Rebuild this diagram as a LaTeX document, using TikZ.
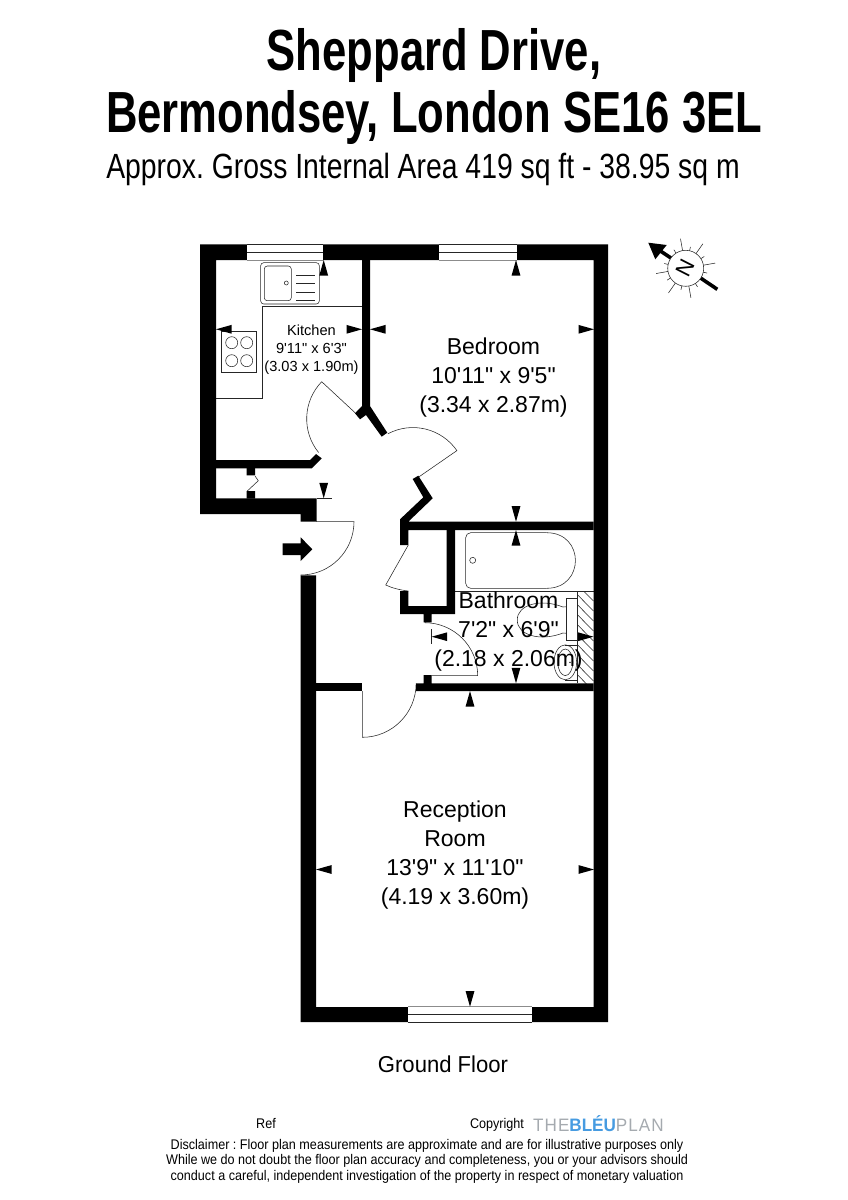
\documentclass[tikz,border=0pt]{standalone}
\usepackage{fontspec}
\usepackage{tikz}
\usetikzlibrary{calc}
\newfontfamily\plansans{Liberation Sans}
\newfontfamily\logoletters[LetterSpace=6]{Liberation Sans}
\definecolor{logoblue}{RGB}{70,155,225}
\definecolor{logogray}{RGB}{165,170,175}
\AtBeginDocument{\frenchspacing}

\begin{document}
\begin{tikzpicture}[x=1pt, y=-1pt]
    \tikzstyle{wall}=[fill=black, draw=none]
    \tikzstyle{fine}=[draw=black!85, line width=0.55pt]
    \tikzstyle{dimtip}=[fill=black, draw=none]
    \tikzstyle{roomtext}=[align=center, inner sep=0pt, font=\plansans\fontsize{23}{29}\selectfont]
    \tikzstyle{smalltext}=[align=center, inner sep=0pt, font=\plansans\fontsize{14.6}{18}\selectfont]
    \tikzstyle{foottext}=[inner sep=0pt, anchor=base, xscale=0.9, font=\plansans\fontsize{14}{16}\selectfont]
    \tikzstyle{titletext}=[anchor=base, inner sep=0pt, xscale=0.752, font=\plansans\bfseries\fontsize{58}{58}\selectfont]

    \useasboundingbox (0,0) rectangle (848,1200);

      % fittings
      \draw[fine] (262.3,306.3) -- (362,306.3) (262.3,306.3) -- (262.3,398.3) -- (216,398.3);
      \draw[fine] (221.3,331.3) rectangle (256.7,372.3);
      \foreach \cx/\cy in {231.7/342.7, 246.7/342.7, 231.7/360.7, 246.7/360.7}
        \draw[fine] (\cx,\cy) circle (6pt);
      \draw[fine, rounded corners=3pt] (260.7,262.7) rectangle (319.3,304);
      \draw[fine, rounded corners=3pt] (264.3,266) rectangle (291.3,300.7);
      \draw[fine] (286.3,283) circle (2pt);
      \foreach \dy in {275.7, 283.3, 292.3, 300}
        \draw[fine] (296,\dy) -- (315.3,\dy);
      \draw[fine, rounded corners=5pt] (546.7,532.7) -- (465.7,532.7) -- (465.7,588.3) -- (546.7,588.3);
      \draw[fine] (546.7,532.7) .. controls (585,532.7) and (585,588.3) .. (546.7,588.3);
      \draw[fine] (472.7,560.3) circle (3pt);
      \draw[fine] (455,591) -- (593.5,591);
      \draw[fine] (566.7,598.3) rectangle (577.7,640);
      \draw[fine] (566.7,606.7) -- (563,607) .. controls (540,598) and (517,605) .. (517.3,620)
        .. controls (517,635) and (540,642) .. (563,633) -- (566.7,633.3);
      \draw[fine] (565.3,662.3) ellipse (11.3pt and 17.5pt);
      \draw[fine] (565.3,662.3) ellipse (7.5pt and 13.3pt);
      \draw[fine] (565.3,644.8) -- (577.7,644.8) (565.3,679.8) -- (577.7,679.8);
      \fill (570,662.3) circle (0.8pt);
      \begin{scope}
        \clip (577.7,591) rectangle (593.5,683.3);
        \foreach \hy in {575,585,...,685}
          \draw[fine] (577.7,\hy) -- (593.5,{\hy+16});
      \end{scope}
      \draw[fine] (577.7,591) -- (577.7,683.3);

      % doors
      \draw[fine] (316,521.7) -- (354,521.7) arc[start angle=0, end angle=-90, radius=53.3pt];
      \draw[fine] (362.3,691) -- (362.3,737.3) arc[start angle=-90, end angle=0, radius=53.8pt];
      \draw[fine] (431.7,675.7) -- (477.7,675.7) arc[start angle=0, end angle=90, radius=53pt];
      \draw[fine] (355.7,413.3) -- (321.7,381.7) arc[start angle=136, end angle=219, radius=53.5pt];
      \draw[fine] (418.3,477.3) -- (456.9,450.6) arc[start angle=34.7, end angle=118, radius=53.5pt];
      \draw[fine] (408.3,545) -- (385.7,585) .. controls (392,588) and (400,590) .. (408.3,591);
      \draw[fine] (255,476) -- (258.3,480.7) -- (247.3,491);
      \draw[fine] (316.7,498.3) -- (331.7,498.3);
      \draw[fine] (431.7,629.3) -- (431.7,644.3);

      % walls
      \fill[wall] (200,244.3) -- (608,244.3) -- (608,1022) -- (300.7,1022) -- (300.7,575.3) -- (316,575.3)
        -- (316,1007) -- (593.5,1007) -- (593.5,260) -- (216,260) -- (216,498.3) -- (316.7,498.3)
        -- (316.7,521.7) -- (300.7,521.7) -- (300.7,514) -- (200,514) -- cycle;
      \fill[wall] (362,260) -- (370,260) -- (370,406) -- (387.3,432.7) -- (381.7,436.7) -- (366,415)
        -- (360,419.3) -- (355,413.3) -- (362,406) -- cycle;
      \fill[wall] (216,460) -- (310,460) -- (316,454) -- (321.7,458.3) -- (311.7,468.3) -- (216,468.3) -- cycle;
      \fill[wall] (246.7,468) rectangle (255,475.3) (246.7,491) rectangle (255,498.5);
      \fill[wall] (412.7,479) -- (418.3,475.7) -- (432.7,498.3) -- (408.3,521.7) -- (593.5,521.7) -- (593.5,530)
        -- (408.3,530) -- (408.3,545) -- (400,545) -- (400,519.3) -- (423.3,497.3) -- cycle;
      \fill[wall] (400,591) -- (408.3,591) -- (408.3,606) -- (446.7,606) -- (446.7,530) -- (455,530) -- (455,614)
        -- (431.7,614) -- (431.7,622.3) -- (423.7,622.3) -- (423.7,614) -- (400,614) -- cycle;
      \fill[wall] (316,683.3) rectangle (362.3,691);
      \fill[wall] (416,683.3) -- (423.7,683.3) -- (423.7,675) -- (431.7,675) -- (431.7,683.3) -- (593.5,683.3)
        -- (593.5,691) -- (416,691) -- cycle;

      % windows
      \foreach \xa/\xb/\yo/\yi in {247/323/244.3/260, 439/517/244.3/260, 408.3/531.7/1022.3/1006.7} {
        \fill[white] (\xa,\yo) rectangle (\xb,\yi);
        \draw[fine] (\xa,\yo) -- (\xb,\yo) (\xa,{(\yo+\yi)/2}) -- (\xb,{(\yo+\yi)/2});
        \draw[black!45, line width=0.7pt] (\xa,\yi) -- (\xb,\yi);
      }

      % dimension tips: tip, rotation
      \foreach \tx/\ty/\ang in {323.7/260/0, 516/260/0, 516/530/0, 470/691/0,
          323.7/498.3/180, 516/521.7/180, 516/683.3/180, 470/1006.7/180,
          216/329.3/90, 370/329.3/90, 316/869.5/90, 431.7/636.7/90,
          362/329.3/-90, 594/329.3/-90, 593.5/636.7/-90, 594/869.5/-90}
        \fill[dimtip, shift={(\tx,\ty)}, rotate=\ang] (0pt,0pt) -- (4.4pt,-15.5pt) -- (-4.4pt,-15.5pt) -- cycle;
      \fill[dimtip] (282.7,543.3) -- (300.7,543.3) -- (300.7,537.3) -- (312.3,549.3) -- (300.7,561)
        -- (300.7,555) -- (282.7,555) -- cycle;

      % compass
      \draw[line width=3.6pt] (717.3,289.3) -- (655,247.3);
      \fill (648.3,242.7) -- (666.7,245) -- (655.3,259.3) -- cycle;
      \coordinate (compass) at (685.7,268.3);
      \draw[fine, fill=white] (compass) circle (18pt);
      \foreach \ang in {10,55,100,190,235,280}
        \draw[fine] ($(compass)+(\ang:18pt)$) -- ($(compass)+(\ang:30pt)$);
      \foreach \ang in {32.5,77.5,122.5,167.5,212.5,257.5,302.5,347.5}
        \draw[fine] ($(compass)+(\ang:18pt)$) -- ($(compass)+(\ang:22pt)$);
      \node[inner sep=0pt, rotate=63, font=\plansans\fontsize{22}{22}\selectfont] (north) at (compass) {N};

      % texts
      \node[titletext] (title1) at (434,70) {Sheppard Drive,};
      \node[titletext] (title2) at (434,132.3) {Bermondsey, London SE16 3EL};
      \node[anchor=base, inner sep=0pt, xscale=0.81, font=\plansans\fontsize{35}{35}\selectfont] (area) at (423,178.3) {Approx. Gross Internal Area 419 sq ft - 38.95 sq m};
      \node[smalltext] (kitchen) at (311.5,350) {Kitchen\\9'11" x 6'3"\\(3.03 x 1.90m)};
      \node[roomtext] (bedroom) at (493.5,377.5) {Bedroom\\10'11" x 9'5"\\(3.34 x 2.87m)};
      \node[roomtext] (bathroom) at (508.5,631.5) {Bathroom\\7'2" x 6'9"\\(2.18 x 2.06m)};
      \node[roomtext] (reception) at (455,855) {Reception\\Room\\13'9" x 11'10"\\(4.19 x 3.60m)};
      \node[roomtext, xscale=0.96] (floor) at (443,1064) {Ground Floor};
      \node[foottext] (ref) at (266,1128) {Ref};
      \node[foottext] (copyright) at (497,1128) {Copyright};
      \node[anchor=base west, inner sep=0pt, xscale=0.95, font=\fontsize{18}{18}\selectfont] (logo) at (533,1131)
        {\logoletters\color{logogray}THE\plansans\bfseries\color{logoblue}BLÉU\logoletters\mdseries\color{logogray}PLAN};
      \node[foottext] (disclaim1) at (427,1149) {Disclaimer : Floor plan measurements are approximate and are for illustrative purposes only};
      \node[foottext] (disclaim2) at (427,1164.5) {While we do not doubt the floor plan accuracy and completeness, you or your advisors should};
      \node[foottext] (disclaim3) at (427,1180) {conduct a careful, independent investigation of the property in respect of monetary valuation};
\end{tikzpicture}
\end{document}
